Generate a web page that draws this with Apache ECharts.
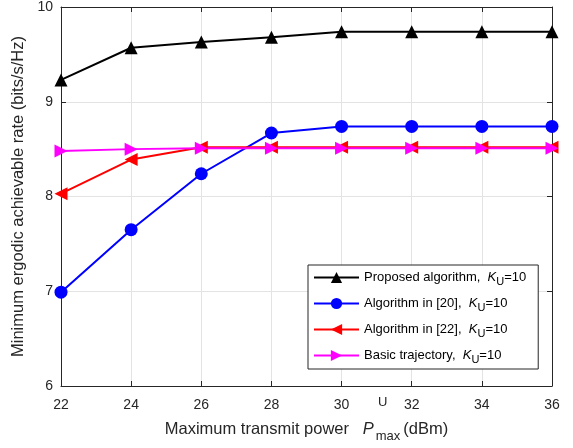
<!DOCTYPE html>
<html>
<head>
<meta charset="utf-8">
<script src="https://cdn.jsdelivr.net/npm/echarts@6/dist/echarts.min.js"></script>
<style>
  html, body { margin: 0; padding: 0; background: #fff; }
  #chart { width: 573px; height: 448px; }
</style>
</head>
<body>
<div id="chart"></div>
<script>
// transmit power (dBm)
var powers = [22, 24, 26, 28, 30, 32, 34, 36]
// minimum ergodic achievable rate (bits/s/Hz)
var proposed = [9.23, 9.57, 9.63, 9.68, 9.74, 9.74, 9.74, 9.74]
var algo20 = [6.99, 7.65, 8.24, 8.67, 8.74, 8.74, 8.74, 8.74]
var algo22 = [8.03, 8.39, 8.52, 8.52, 8.52, 8.52, 8.52, 8.52]
var basic = [8.48, 8.50, 8.51, 8.51, 8.51, 8.51, 8.51, 8.51]
var legendNames = ['Proposed algorithm,', 'Algorithm in [20],', 'Algorithm in [22],', 'Basic trajectory,']

var FONT = 'Liberation Sans, Arial, sans-serif'
var AXIS = '#262626'

function pairs(ys) {
  var out = []
  for (var i = 0; i < powers.length; i++) {
    out.push([powers[i], ys[i]])
  }
  return out
}

function makeSeries(name, ys, color, symbol, rotate) {
  return {
    name: name,
    type: 'line',
    data: pairs(ys),
    symbol: symbol,
    symbolSize: 13,
    symbolRotate: rotate,
    lineStyle: { color: color, width: 2 },
    itemStyle: { color: color },
    animation: false
  }
}

var chart = echarts.init(document.getElementById('chart'))

var boxAxis = {
  axisLine: { show: true, lineStyle: { color: AXIS, width: 1 } },
  axisTick: { show: true, inside: true, length: 5, lineStyle: { color: AXIS } },
  axisLabel: { show: false },
  splitLine: { show: false }
}

chart.setOption({
  backgroundColor: '#fff',
  textStyle: { fontFamily: FONT },
  grid: { left: 61, right: 21, top: 6, bottom: 62, containLabel: false },
  xAxis: [{
    type: 'value',
    min: 22,
    max: 36,
    interval: 2,
    position: 'bottom',
    name: 'Maximum transmit power   {it|P}{sub|max}(dBm)',
    nameLocation: 'middle',
    nameGap: 30,
    nameTextStyle: {
      color: AXIS, fontSize: 16.5, fontFamily: FONT,
      rich: {
        it: { fontStyle: 'italic', fontSize: 16.5, color: AXIS, fontFamily: FONT },
        sub: { fontSize: 13, color: AXIS, fontFamily: FONT, verticalAlign: 'bottom', padding: [14, 3, 0, 2] }
      }
    },
    axisLine: { show: true, lineStyle: { color: AXIS } },
    axisTick: { show: true, inside: true, length: 5, lineStyle: { color: AXIS } },
    axisLabel: { color: AXIS, fontSize: 14, margin: 12, fontFamily: FONT },
    splitLine: { show: true, lineStyle: { color: '#e3e3e3', width: 1 } }
  }, Object.assign({ type: 'value', min: 22, max: 36, interval: 2, position: 'top' }, boxAxis)],
  yAxis: [{
    type: 'value',
    min: 6,
    max: 10,
    interval: 1,
    position: 'left',
    name: 'Minimum ergodic achievable rate (bits/s/Hz)',
    nameLocation: 'middle',
    nameGap: 28,
    nameTextStyle: { color: AXIS, fontSize: 16.5, fontFamily: FONT },
    axisLine: { show: true, lineStyle: { color: AXIS } },
    axisTick: { show: true, inside: true, length: 5, lineStyle: { color: AXIS } },
    axisLabel: { color: AXIS, fontSize: 14, margin: 8, fontFamily: FONT },
    splitLine: { show: true, lineStyle: { color: '#e3e3e3', width: 1 } }
  }, Object.assign({ type: 'value', min: 6, max: 10, interval: 1, position: 'right' }, boxAxis)],
  legend: {
    orient: 'vertical',
    left: 308,
    top: 265,
    padding: [6, 12, 4, 5],
    itemWidth: 45,
    itemHeight: 14,
    itemGap: 10,
    backgroundColor: '#fff',
    borderColor: AXIS,
    borderWidth: 1,
    borderRadius: 0,
    data: legendNames,
    formatter: function (name) {
      return name + '  {it|K}{sub|U}=10'
    },
    textStyle: {
      color: '#000', fontSize: 13, fontFamily: FONT,
      rich: {
        it: { fontStyle: 'italic', fontSize: 13, color: '#000', fontFamily: FONT },
        sub: { fontSize: 11, color: '#000', fontFamily: FONT, verticalAlign: 'bottom', padding: [8, 0, 0, 0] }
      }
    }
  },
  graphic: [{
    type: 'text',
    left: 378,
    top: 396,
    style: { text: 'U', fontSize: 13, fill: AXIS, fontFamily: FONT }
  }],
  series: [
    makeSeries(legendNames[0], proposed, '#000000', 'triangle', 0),
    makeSeries(legendNames[1], algo20, '#0000ff', 'circle', 0),
    makeSeries(legendNames[2], algo22, '#ff0000', 'triangle', 90),
    makeSeries(legendNames[3], basic, '#ff00ff', 'triangle', -90)
  ]
})
</script>
</body>
</html>
